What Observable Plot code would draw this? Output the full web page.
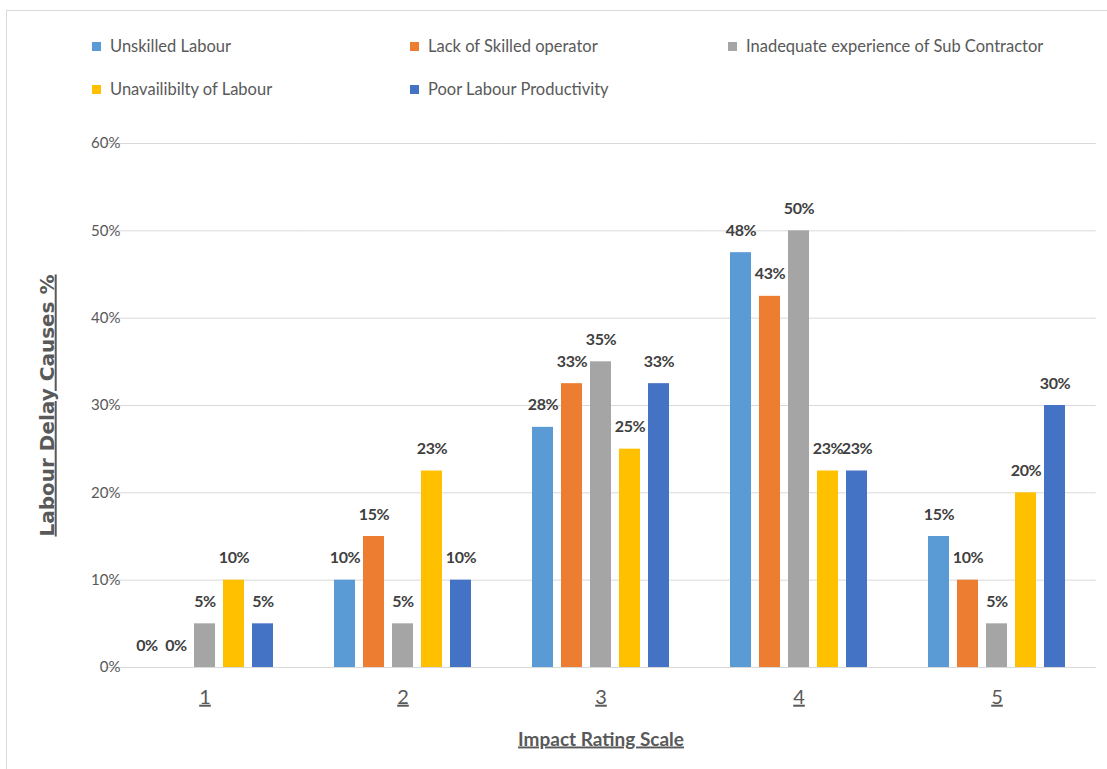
<!DOCTYPE html>
<html>
<head>
<meta charset="utf-8">
<script src="https://cdn.jsdelivr.net/npm/d3@7"></script>
<script src="https://cdn.jsdelivr.net/npm/@observablehq/plot@0.6"></script>
<style>
  html, body { margin: 0; padding: 0; background: #fff; }
  #wrap { position: relative; width: 1107px; height: 769px; overflow: hidden;
          font-family: "Lato", "Roboto", sans-serif; }
  #frame { position: absolute; left: 6px; top: 10px; width: 1120px; height: 800px;
           border-left: 1px solid #d9d9d9; border-top: 1px solid #d9d9d9; }
  #legend { position: relative; height: 120px; }
  .item { position: absolute; display: flex; align-items: center; font-size: 16.5px; color: #595959; white-space: nowrap; }
  .sw { width: 9px; height: 9px; margin-right: 9px; }
  #chart { position: relative; }
  g[aria-label="y-axis label"] text, g[aria-label="fx-axis label"] text,
  g[aria-label="fx-axis tick label"] text { text-decoration: underline; }
  g[aria-label="y-axis label"] text, g[aria-label="fx-axis label"] text { font-weight: bold; }
  g[aria-label="text"] text { letter-spacing: -0.4px; }
</style>
</head>
<body>
<div id="wrap">
  <div id="frame"></div>
  <div id="legend"></div>
  <div id="chart"></div>
</div>
<script>
const groups = ["1", "2", "3", "4", "5"];
const series = ["Unskilled Labour", "Lack of Skilled operator", "Inadequate experience of Sub Contractor", "Unavailibilty of Labour", "Poor Labour Productivity"];
const colors = ["#5B9BD5", "#ED7D31", "#A5A5A5", "#FFC000", "#4472C4"];
const unskilled = [0, 10, 27.5, 47.5, 15];
const lackSkilled = [0, 15, 32.5, 42.5, 10];
const inadequate = [5, 5, 35, 50, 5];
const unavailable = [10, 22.5, 25, 22.5, 20];
const poorProductivity = [5, 10, 32.5, 22.5, 30];
const yTicks = [0, 10, 20, 30, 40, 50, 60];

const valuesBySeries = [unskilled, lackSkilled, inadequate, unavailable, poorProductivity];
const data = [];
series.forEach((s, i) => groups.forEach((g, j) => data.push({group: g, series: s, value: valuesBySeries[i][j]})));

// legend (HTML, above the SVG)
const legendPos = [[92, 46], [410, 46], [728, 46], [92, 89], [410, 89]];
const legend = document.getElementById("legend");
series.forEach((s, i) => {
  const it = document.createElement("div");
  it.className = "item";
  it.style.left = legendPos[i][0] + "px";
  it.style.top = (legendPos[i][1] - 12) + "px";
  it.style.height = "24px";
  it.innerHTML = `<span class="sw" style="background:${colors[i]}"></span><span>${s}</span>`;
  legend.appendChild(it);
});

const step = 990 / 5;
const ext = -0.15 * step;

const chart = Plot.plot({
  width: 1107,
  height: 649,
  marginTop: 23,
  marginBottom: 102,
  marginLeft: 105,
  marginRight: 12,
  style: {fontFamily: '"Lato", "Roboto", sans-serif', background: "transparent"},
  fx: {domain: groups, paddingInner: 0.3, paddingOuter: 0.15},
  x: {domain: series, paddingInner: 0.27, paddingOuter: 0, axis: null},
  y: {domain: [0, 60]},
  color: {domain: series, range: colors},
  marks: [
    Plot.ruleY(yTicks, {y: d => d, stroke: "#d9d9d9", strokeWidth: 1, insetLeft: ext, insetRight: ext}),
    Plot.barY(data, {fx: "group", x: "series", y: "value", fill: "series"}),
    Plot.text(data, {fx: "group", x: "series", y: "value", text: d => Math.round(d.value) + "%",
      dy: -22, fontWeight: "bold", fontSize: 16, fill: "#404040", lineAnchor: "middle"}),
    Plot.axisY({ticks: yTicks, tickFormat: d => d + "%", tickSize: 0, tickPadding: 15, fontSize: 15,
      color: "#595959", label: "Labour Delay Causes %", labelAnchor: "center", labelOffset: 96, labelArrow: "none"}),
    Plot.axisFx({anchor: "bottom", tickSize: 0, tickPadding: 22, fontSize: 20, color: "#595959",
      label: "Impact Rating Scale", labelAnchor: "center", labelOffset: 78, labelArrow: "none"})
  ]
});
chart.querySelectorAll('g[aria-label="y-axis label"] text').forEach(t => {
  t.style.fontSize = "20px"; t.style.fontFamily = '"DejaVu Sans", sans-serif';
});
chart.querySelectorAll('g[aria-label="fx-axis label"] text').forEach(t => { t.style.fontSize = "19px"; });
document.getElementById("chart").appendChild(chart);
</script>
</body>
</html>
